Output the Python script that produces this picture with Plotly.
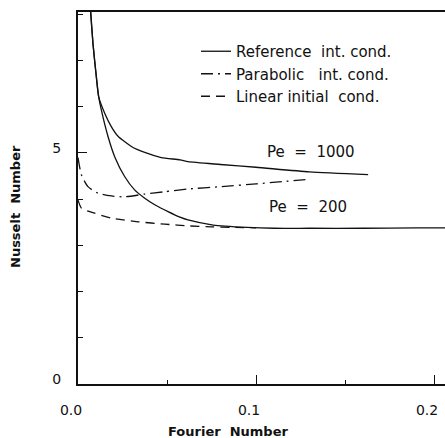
import plotly.graph_objects as go

# ---- data ----
ref1000_x = [0.0064, 0.0071, 0.0084, 0.0103, 0.0116, 0.0150, 0.0187, 0.0225, 0.0300, 0.0375, 0.0468, 0.0573,
             0.0618, 0.0800, 0.1000, 0.1300, 0.1630]
ref1000_y = [8.40, 8.06, 7.37, 6.65, 6.22, 5.86, 5.57, 5.36, 5.14, 5.01, 4.90, 4.85,
             4.81, 4.75, 4.69, 4.59, 4.53]

ref200_x = [0.0064, 0.0071, 0.0084, 0.0103, 0.0116, 0.0131, 0.0169, 0.0206, 0.0262, 0.0318, 0.0375, 0.0431,
            0.0506, 0.0573, 0.0618, 0.0760, 0.0950, 0.1100, 0.1300, 0.1600, 0.1900, 0.2070]
ref200_y = [8.40, 8.06, 7.37, 6.65, 6.22, 5.93, 5.35, 4.92, 4.49, 4.20, 4.02, 3.88,
            3.73, 3.61, 3.55, 3.44, 3.39, 3.37, 3.37, 3.37, 3.38, 3.38]

para1000_x = [0.0, 0.0019, 0.0056, 0.0112, 0.0187, 0.0262, 0.0375, 0.0487, 0.0618, 0.0800, 0.1000, 0.1150, 0.1300]
para1000_y = [4.90, 4.53, 4.27, 4.13, 4.07, 4.05, 4.11, 4.16, 4.22, 4.27, 4.33, 4.38, 4.43]

lin200_x = [0.0, 0.0020, 0.0066, 0.0187, 0.0337, 0.0487, 0.0629, 0.0750, 0.0870, 0.1000]
lin200_y = [3.98, 3.80, 3.73, 3.59, 3.51, 3.46, 3.42, 3.40, 3.39, 3.38]

legend_names = ["Reference  int. cond.", "Parabolic   int. cond.", "Linear initial  cond."]
pe_labels = ["Pe  =  1000", "Pe  =  200"]
pe_label_x = [0.131, 0.129]
pe_label_y = [5.02, 3.83]

x_tickvals = [0.0, 0.1, 0.2]
x_ticktext = ["0.0", "0.1", "0.2"]
y_tickvals = [0, 5]
y_ticktext = ["0", "5"]

FONT = "DejaVu Sans"
LINE = dict(color="#111111", width=1.3)

fig = go.Figure()
fig.add_trace(go.Scatter(x=ref1000_x, y=ref1000_y, mode="lines",
                         line=dict(**LINE, shape="spline", smoothing=0.6),
                         name=legend_names[0], legendrank=1))
fig.add_trace(go.Scatter(x=para1000_x, y=para1000_y, mode="lines",
                         line=dict(**LINE, dash="12px,5px,2px,5px", shape="spline", smoothing=0.6),
                         name=legend_names[1], legendrank=2))
fig.add_trace(go.Scatter(x=lin200_x, y=lin200_y, mode="lines",
                         line=dict(**LINE, dash="9px,6px", shape="spline", smoothing=0.6),
                         name=legend_names[2], legendrank=3))
fig.add_trace(go.Scatter(x=ref200_x, y=ref200_y, mode="lines",
                         line=dict(**LINE, shape="spline", smoothing=0.6),
                         showlegend=False))

for t, xx, yy in zip(pe_labels, pe_label_x, pe_label_y):
    fig.add_annotation(x=xx, y=yy, text=t, showarrow=False, xanchor="center", yanchor="middle",
                       font=dict(family=FONT, size=15, color="#111"))

fig.add_annotation(xref="paper", yref="paper", x=(228 - 78) / 367, y=(384 - 432) / 372,
                   text="<b>Fourier  Number</b>", showarrow=False, xanchor="center", yanchor="middle",
                   font=dict(family=FONT, size=13, color="#111"))
fig.add_annotation(xref="paper", yref="paper", x=(15 - 78) / 367, y=(384 - 207) / 372,
                   text="<b>Nusselt  Number</b>", showarrow=False, xanchor="center", yanchor="middle",
                   textangle=-90, font=dict(family=FONT, size=13, color="#111"))

fig.update_layout(
    width=445, height=438,
    margin=dict(l=78, r=0, t=12, b=54),
    paper_bgcolor="white", plot_bgcolor="white",
    font=dict(family=FONT, size=14, color="#111"),
    legend=dict(x=(196 - 78) / 367, y=(384 - 35) / 372, xanchor="left", yanchor="top",
                bgcolor="rgba(0,0,0,0)", font=dict(family=FONT, size=15, color="#111"),
                itemwidth=30, tracegroupgap=0),
    xaxis=dict(range=[0, (445 - 78) / 1780], showgrid=False, zeroline=False,
               showline=True, linecolor="#111", linewidth=2, mirror=True,
               ticks="inside", ticklen=9, tickwidth=1.2, tickcolor="#111",
               tickvals=x_tickvals, ticktext=x_ticktext,
               ticklabelstandoff=12, ticklabelshift=-7,
               minor=dict(dtick=0.05, ticks="inside", ticklen=4, tickcolor="#111", showgrid=False)),
    yaxis=dict(range=[0, 8.05], showgrid=False, zeroline=False,
               showline=True, linecolor="#111", linewidth=2,
               ticks="inside", ticklen=9, tickwidth=1.2, tickcolor="#111",
               tickvals=y_tickvals, ticktext=y_ticktext,
               ticklabelstandoff=12, ticklabelshift=-5,
               minor=dict(dtick=1, ticks="inside", ticklen=5, tickcolor="#111", showgrid=False)),
    showlegend=True,
)

fig.write_html("out.html")
